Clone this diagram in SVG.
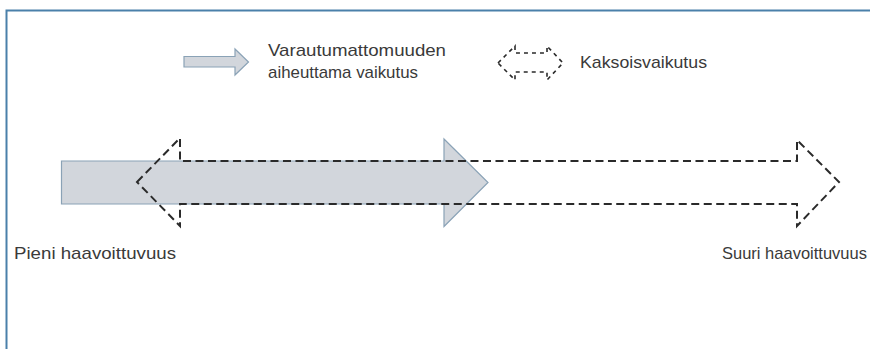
<svg xmlns="http://www.w3.org/2000/svg" width="870" height="349" viewBox="0 0 870 349">
  <style>
    .frame { fill: none; stroke: #4a80aa; stroke-width: 2; }
    .solid-arrow { fill: #d2d6dc; stroke: #8aa2b6; stroke-width: 1.2; stroke-linejoin: miter; }
    .double-arrow { fill: none; stroke: #2a2a2a; stroke-width: 2; stroke-dasharray: 8 4.5; stroke-linejoin: miter; }
    .double-arrow-small { fill: none; stroke: #2a2a2a; stroke-width: 1.6; stroke-dasharray: 4 4; }
    .label { font-family: "Liberation Sans", Arial, sans-serif; font-size: 17px; fill: #3a3a3a; }
  </style>

  <rect x="0" y="0" width="870" height="349" fill="#ffffff"/>

  <!-- panel border (top and left edges) -->
  <path class="frame" d="M6.5,349 V10.5 H870"/>

  <!-- legend -->
  <g id="legend-solid">
    <path class="solid-arrow" d="M184,56.5 H235 V49 L248.5,62 L235,75 V67 H184 Z"/>
    <text class="label" x="268" y="56" textLength="178" lengthAdjust="spacingAndGlyphs">Varautumattomuuden</text>
    <text class="label" x="268" y="78" textLength="150" lengthAdjust="spacingAndGlyphs">aiheuttama vaikutus</text>
  </g>
  <g id="legend-double">
    <path class="double-arrow-small" d="M498,63 L515,46 V53 H547 V46 L563,63 L547,80 V72 H515 V80 Z"/>
    <text class="label" x="580" y="68" textLength="127" lengthAdjust="spacingAndGlyphs">Kaksoisvaikutus</text>
  </g>

  <!-- main arrows -->
  <g id="unpreparedness-effect">
    <path class="solid-arrow" d="M61.5,161 H444 V139 L488,182.5 L444,226.5 V204 H61.5 Z"/>
  </g>
  <g id="double-effect">
    <path class="double-arrow" d="M137,182 L180,138 V161 H797 V140 L839,182 L797,226 V204 H180 V226 Z"/>
  </g>

  <!-- scale end labels -->
  <g id="low-vulnerability">
    <text class="label" x="14" y="259" textLength="162" lengthAdjust="spacingAndGlyphs">Pieni haavoittuvuus</text>
  </g>
  <g id="high-vulnerability">
    <text class="label" x="722" y="259" textLength="145" lengthAdjust="spacingAndGlyphs">Suuri haavoittuvuus</text>
  </g>
</svg>
